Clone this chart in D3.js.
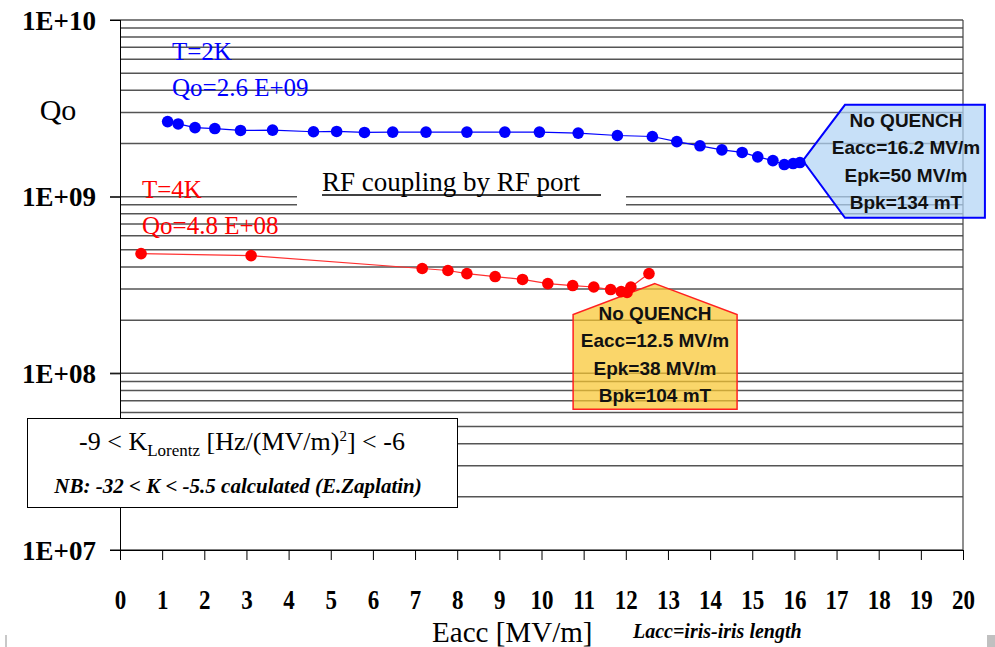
<!DOCTYPE html>
<html>
<head>
<meta charset="utf-8">
<script src="https://cdn.jsdelivr.net/npm/d3@7/dist/d3.min.js"></script>
<style>
  html, body { margin: 0; padding: 0; background: #fff; }
  svg { display: block; }
</style>
</head>
<body>
<svg id="chart" width="995" height="647"></svg>
<script>
// ---------------- data ----------------
const blueE = [1.13, 1.38, 1.78, 2.25, 2.86, 3.62, 4.59, 5.14, 5.80, 6.47, 7.26, 8.23, 9.13,
               9.95, 10.87, 11.80, 12.63, 13.21, 13.76, 14.28, 14.76, 15.13, 15.49, 15.76, 15.97, 16.13];
const blueQ = [2.66e9, 2.58e9, 2.46e9, 2.43e9, 2.37e9, 2.38e9, 2.33e9, 2.34e9, 2.31e9, 2.32e9, 2.32e9, 2.32e9, 2.32e9,
               2.32e9, 2.29e9, 2.22e9, 2.19e9, 2.05e9, 1.94e9, 1.84e9, 1.78e9, 1.68e9, 1.60e9, 1.52e9, 1.54e9, 1.56e9];
const redE = [0.50, 3.11, 7.17, 7.78, 8.23, 8.90, 9.55, 10.15, 10.74, 11.24, 11.64, 11.89, 12.03, 12.12, 12.55];
const redQ = [4.76e8, 4.64e8, 3.92e8, 3.82e8, 3.67e8, 3.53e8, 3.40e8, 3.22e8, 3.14e8, 3.08e8, 2.98e8, 2.90e8, 2.87e8, 3.08e8, 3.67e8];
const xTickValues = [0,1,2,3,4,5,6,7,8,9,10,11,12,13,14,15,16,17,18,19,20];
const yTickValues = [1e7, 1e8, 1e9, 1e10];
const yTickLabels = ["1E+07", "1E+08", "1E+09", "1E+10"];
const blueNote = ["No QUENCH", "Eacc=16.2 MV/m", "Epk=50 MV/m", "Bpk=134 mT"];
const redNote = ["No QUENCH", "Eacc=12.5 MV/m", "Epk=38 MV/m", "Bpk=104 mT"];

// ---------------- layout ----------------
const svg = d3.select("#chart");
const L = 120, R = 963, T = 20, B = 550;
const x = d3.scaleLinear().domain([0, 20]).range([L, R]);
const y = d3.scaleLog().domain([1e7, 1e10]).range([B, T]);
const serif = "'Liberation Serif', 'Times New Roman', serif";
const sans = "'Liberation Sans', Arial, sans-serif";

// grid lines (every 1..9 x 10^k)
svg.append("g").selectAll("line").data(y.ticks()).join("line")
  .attr("x1", d => yTickValues.includes(d) ? L - 10 : L)
  .attr("x2", R)
  .attr("y1", d => y(d)).attr("y2", d => y(d))
  .attr("stroke", "#555").attr("stroke-width", 1.5);

// right border
svg.append("line").attr("x1", R).attr("x2", R).attr("y1", T).attr("y2", B)
  .attr("stroke", "#444").attr("stroke-width", 1.2);

// x axis
const gx = svg.append("g").attr("transform", `translate(0,${B})`)
  .call(d3.axisBottom(x).tickValues(xTickValues).tickSize(10).tickSizeOuter(0).tickFormat(d3.format("d")));
gx.select(".domain").attr("stroke", "#000").attr("d", `M${L-10},0.5H${R}`);
gx.selectAll(".tick line").attr("stroke", "#000");
gx.selectAll(".tick text").attr("y", 0).attr("dy", 0)
  .attr("transform", "translate(0,59) scale(0.92,1.08)")
  .attr("font-family", serif).attr("font-weight", "bold").attr("font-size", 25).attr("fill", "#000");

// y axis
const gy = svg.append("g").attr("transform", `translate(${L},0)`)
  .call(d3.axisLeft(y).tickValues(yTickValues).tickSize(10).tickSizeOuter(0).tickPadding(14)
    .tickFormat((d, i) => yTickLabels[i]));
gy.select(".domain").attr("stroke", "#000");
gy.selectAll(".tick line").attr("stroke", "#000");
gy.selectAll(".tick text").attr("font-family", serif).attr("font-weight", "bold")
  .attr("font-size", 27).attr("fill", "#000").attr("dy", "0.34em");
svg.append("line").attr("x1", L + 0.5).attr("x2", L + 0.5).attr("y1", T).attr("y2", B + 10).attr("stroke", "#000");

// axis titles
svg.append("text").attr("x", 58).attr("y", 120).attr("text-anchor", "middle")
  .attr("font-family", serif).attr("font-size", 30).text("Qo");
svg.append("text").attr("x", 0).attr("y", 0)
  .attr("transform", "translate(432,642) scale(1.02,1)")
  .attr("font-family", serif).attr("font-size", 28.5).text("Eacc [MV/m]");
svg.append("text").attr("x", 633).attr("y", 638)
  .attr("font-family", serif).attr("font-weight", "bold").attr("font-style", "italic")
  .attr("font-size", 20).text("Lacc=iris-iris length");

// RF coupling label with white background
svg.append("rect").attr("x", 297).attr("y", 180).attr("width", 329).attr("height", 29).attr("fill", "#fff");
svg.append("text").attr("x", 322).attr("y", 191).attr("font-family", serif).attr("font-size", 27)
  .text("RF coupling by RF port");
svg.append("line").attr("x1", 322).attr("x2", 601).attr("y1", 195).attr("y2", 195)
  .attr("stroke", "#000").attr("stroke-width", 1.4);

// series labels
svg.append("text").attr("x", 172).attr("y", 60).attr("fill", "#0000ff")
  .attr("font-family", serif).attr("font-size", 25).text("T=2K");
svg.append("text").attr("x", 172).attr("y", 96).attr("fill", "#0000ff")
  .attr("font-family", serif).attr("font-size", 25).text("Qo=2.6 E+09");
svg.append("text").attr("x", 142).attr("y", 198).attr("fill", "#ff0000")
  .attr("font-family", serif).attr("font-size", 25).text("T=4K");
svg.append("text").attr("x", 142).attr("y", 234).attr("fill", "#ff0000")
  .attr("font-family", serif).attr("font-size", 25).text("Qo=4.8 E+08");

// callouts (positioned through scales)
const blueShape = [[x(16.2), y(1.60e9)], [x(17.2), y(3.31e9)], [x(20.52), y(3.31e9)],
                   [x(20.52), y(7.6e8)], [x(17.2), y(7.6e8)]];
svg.append("path").attr("d", d3.line()(blueShape) + "Z")
  .attr("fill", "rgb(178,212,245)").attr("fill-opacity", 0.72)
  .attr("stroke", "#0000ff").attr("stroke-width", 2);
const redShape = [[x(12.69), y(3.22e8)], [x(14.64), y(2.15e8)], [x(14.64), y(6.26e7)],
                  [x(10.75), y(6.26e7)], [x(10.75), y(2.15e8)]];
svg.append("path").attr("d", d3.line()(redShape) + "Z")
  .attr("fill", "rgb(248,198,48)").attr("fill-opacity", 0.72)
  .attr("stroke", "#ff2020").attr("stroke-width", 1.5);

svg.append("g").selectAll("text").data(blueNote).join("text")
  .attr("x", 906).attr("y", (d, i) => 127 + i * 27.3).attr("text-anchor", "middle")
  .attr("font-family", sans).attr("font-weight", "bold").attr("font-size", 19).attr("fill", "#111")
  .text(d => d);
svg.append("g").selectAll("text").data(redNote).join("text")
  .attr("x", 655).attr("y", (d, i) => 320 + i * 27.3).attr("text-anchor", "middle")
  .attr("font-family", sans).attr("font-weight", "bold").attr("font-size", 19).attr("fill", "#111")
  .text(d => d);

// series
const line = d3.line().x(d => x(d[0])).y(d => y(d[1]));
const blue = blueE.map((e, i) => [e, blueQ[i]]);
const red = redE.map((e, i) => [e, redQ[i]]);
svg.append("path").datum(blue).attr("d", line).attr("fill", "none").attr("stroke", "#0000ff").attr("stroke-width", 1.2);
svg.append("path").datum(red).attr("d", line).attr("fill", "none").attr("stroke", "#ff3030").attr("stroke-width", 1.2);
svg.append("g").selectAll("circle").data(blue).join("circle")
  .attr("cx", d => x(d[0])).attr("cy", d => y(d[1])).attr("r", 5.8).attr("fill", "#0000ff");
svg.append("g").selectAll("circle").data(red).join("circle")
  .attr("cx", d => x(d[0])).attr("cy", d => y(d[1])).attr("r", 5.8).attr("fill", "#ff0000");

// K Lorentz box
svg.append("rect").attr("x", 27.5).attr("y", 418.5).attr("width", 430).attr("height", 89)
  .attr("fill", "#fff").attr("stroke", "#000").attr("stroke-width", 1);
const t1 = svg.append("text").attr("x", 242).attr("y", 450).attr("text-anchor", "middle")
  .attr("font-family", serif).attr("font-size", 26).attr("fill", "#000");
t1.append("tspan").text("-9 < K");
t1.append("tspan").attr("font-size", 17).attr("dy", 6).text("Lorentz");
t1.append("tspan").attr("dy", -6).text(" [Hz/(MV/m)");
t1.append("tspan").attr("font-size", 15).attr("dy", -9).text("2");
t1.append("tspan").attr("dy", 9).text("] < -6");
svg.append("text").attr("x", 238).attr("y", 493).attr("text-anchor", "middle")
  .attr("font-family", serif).attr("font-size", 21).attr("font-weight", "bold").attr("font-style", "italic")
  .text("NB: -32 < K < -5.5 calculated (E.Zaplatin)");

// screenshot edge marks
svg.append("rect").attr("x", 5).attr("y", 635).attr("width", 2).attr("height", 12).attr("fill", "#c8c8c8");
svg.append("rect").attr("x", 987).attr("y", 635).attr("width", 8).attr("height", 12).attr("fill", "#c0c0c0");
</script>
</body>
</html>
